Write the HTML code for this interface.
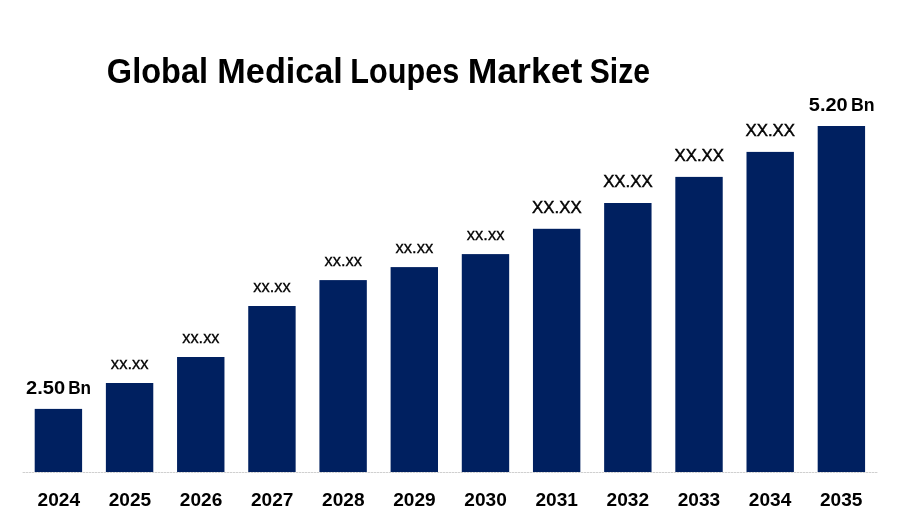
<!DOCTYPE html>
<html lang="en">
<head>
<meta charset="utf-8">
<title>Global Medical Loupes Market Size</title>
<style>
html,body{margin:0;padding:0;background:#fff;}
body{width:900px;height:525px;overflow:hidden;}
svg{display:block;}
svg text{font-family:"Liberation Sans",sans-serif;fill:#000;}
svg text.title,svg text.val,svg text.yr{font-weight:bold;}
svg text.lab{stroke:#000;stroke-width:0.3px;}
svg text.labU{stroke:#000;stroke-width:0.45px;}
</style>
</head>
<body>
<svg width="900" height="525" viewBox="0 0 900 525">
<rect x="0" y="0" width="900" height="525" fill="#ffffff"/>
<line x1="22" y1="472.5" x2="878" y2="472.5" stroke="#ececec" stroke-width="1"/>
<line x1="22" y1="472.5" x2="878" y2="472.5" stroke="#d0d0d0" stroke-width="1" stroke-dasharray="2 1" stroke-dashoffset="2"/>
<g fill="#002060">
<rect x="34.70" y="408.90" width="47.40" height="63.10"/>
<rect x="105.88" y="383.00" width="47.40" height="89.00"/>
<rect x="177.06" y="357.00" width="47.40" height="115.00"/>
<rect x="248.24" y="306.00" width="47.40" height="166.00"/>
<rect x="319.42" y="280.10" width="47.40" height="191.90"/>
<rect x="390.60" y="267.10" width="47.40" height="204.90"/>
<rect x="461.78" y="254.10" width="47.40" height="217.90"/>
<rect x="532.96" y="228.80" width="47.40" height="243.20"/>
<rect x="604.14" y="203.00" width="47.40" height="269.00"/>
<rect x="675.32" y="176.90" width="47.40" height="295.10"/>
<rect x="746.50" y="151.90" width="47.40" height="320.10"/>
<rect x="817.68" y="126.00" width="47.40" height="346.00"/>
</g>
<text class="title" y="82.60" font-size="34.6"><tspan x="106.83" textLength="101.21" lengthAdjust="spacingAndGlyphs">Global</tspan> <tspan x="217.37" textLength="125.50" lengthAdjust="spacingAndGlyphs">Medical</tspan> <tspan x="350.27" textLength="108.95" lengthAdjust="spacingAndGlyphs">Loupes</tspan> <tspan x="467.68" textLength="114.66" lengthAdjust="spacingAndGlyphs">Market</tspan> <tspan x="589.80" textLength="60.23" lengthAdjust="spacingAndGlyphs">Size</tspan></text>
<text class="val" y="394.00" font-size="17.5"><tspan x="26.14" textLength="39.08" lengthAdjust="spacingAndGlyphs">2.50</tspan> <tspan x="68.14" textLength="22.84" lengthAdjust="spacingAndGlyphs">Bn</tspan></text>
<text class="lab" y="368.50" font-size="16.3"><tspan x="110.86" textLength="37.75" lengthAdjust="spacingAndGlyphs">xx.xx</tspan></text>
<text class="lab" y="342.50" font-size="16.3"><tspan x="182.27" textLength="37.23" lengthAdjust="spacingAndGlyphs">xx.xx</tspan></text>
<text class="lab" y="291.50" font-size="16.3"><tspan x="253.32" textLength="37.42" lengthAdjust="spacingAndGlyphs">xx.xx</tspan></text>
<text class="lab" y="265.60" font-size="16.3"><tspan x="324.48" textLength="37.43" lengthAdjust="spacingAndGlyphs">xx.xx</tspan></text>
<text class="lab" y="252.60" font-size="16.3"><tspan x="395.54" textLength="37.65" lengthAdjust="spacingAndGlyphs">xx.xx</tspan></text>
<text class="lab" y="239.60" font-size="16.3"><tspan x="466.89" textLength="37.53" lengthAdjust="spacingAndGlyphs">xx.xx</tspan></text>
<text class="labU" y="213.00" font-size="16.1"><tspan x="532.11" textLength="49.48" lengthAdjust="spacingAndGlyphs">XX.XX</tspan></text>
<text class="labU" y="187.20" font-size="16.1"><tspan x="603.15" textLength="49.63" lengthAdjust="spacingAndGlyphs">XX.XX</tspan></text>
<text class="labU" y="161.10" font-size="16.1"><tspan x="674.46" textLength="49.55" lengthAdjust="spacingAndGlyphs">XX.XX</tspan></text>
<text class="labU" y="136.10" font-size="16.1"><tspan x="745.50" textLength="49.57" lengthAdjust="spacingAndGlyphs">XX.XX</tspan></text>
<text class="val" y="110.70" font-size="17.5"><tspan x="808.86" textLength="38.85" lengthAdjust="spacingAndGlyphs">5.20</tspan> <tspan x="851.00" textLength="23.59" lengthAdjust="spacingAndGlyphs">Bn</tspan></text>
<text class="yr" y="505.70" font-size="18.0"><tspan x="37.55" textLength="42.49" lengthAdjust="spacingAndGlyphs">2024</tspan></text>
<text class="yr" y="505.70" font-size="18.0"><tspan x="108.68" textLength="42.49" lengthAdjust="spacingAndGlyphs">2025</tspan></text>
<text class="yr" y="505.70" font-size="18.0"><tspan x="179.81" textLength="42.49" lengthAdjust="spacingAndGlyphs">2026</tspan></text>
<text class="yr" y="505.70" font-size="18.0"><tspan x="250.94" textLength="42.49" lengthAdjust="spacingAndGlyphs">2027</tspan></text>
<text class="yr" y="505.70" font-size="18.0"><tspan x="322.07" textLength="42.49" lengthAdjust="spacingAndGlyphs">2028</tspan></text>
<text class="yr" y="505.70" font-size="18.0"><tspan x="393.20" textLength="42.49" lengthAdjust="spacingAndGlyphs">2029</tspan></text>
<text class="yr" y="505.70" font-size="18.0"><tspan x="464.33" textLength="42.49" lengthAdjust="spacingAndGlyphs">2030</tspan></text>
<text class="yr" y="505.70" font-size="18.0"><tspan x="535.46" textLength="42.49" lengthAdjust="spacingAndGlyphs">2031</tspan></text>
<text class="yr" y="505.70" font-size="18.0"><tspan x="606.59" textLength="42.49" lengthAdjust="spacingAndGlyphs">2032</tspan></text>
<text class="yr" y="505.70" font-size="18.0"><tspan x="677.72" textLength="42.49" lengthAdjust="spacingAndGlyphs">2033</tspan></text>
<text class="yr" y="505.70" font-size="18.0"><tspan x="748.85" textLength="42.49" lengthAdjust="spacingAndGlyphs">2034</tspan></text>
<text class="yr" y="505.70" font-size="18.0"><tspan x="819.98" textLength="42.49" lengthAdjust="spacingAndGlyphs">2035</tspan></text>
</svg>
</body>
</html>
